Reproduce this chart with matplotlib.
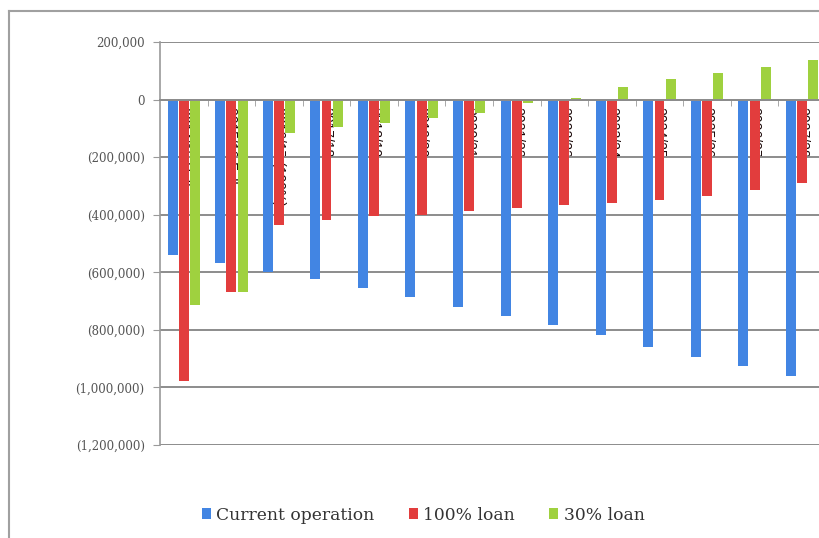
import matplotlib
matplotlib.use("Agg")
import matplotlib.pyplot as plt
import numpy as np
from matplotlib.lines import Line2D
from matplotlib.patches import Patch
from matplotlib.ticker import FuncFormatter, MultipleLocator

categories = ["2014/15 Half", "2015/16 Full", "2016/17 (100%)", "2017/18", "2018/19",
              "2019/20", "2020/21", "2021/22", "2022/23", "2023/24", "2024/25",
              "2025/26", "2026/27", "2027/28"]
current_operation = [-540000, -568000, -600000, -624000, -655000, -686000, -719000,
                     -751000, -783000, -817000, -858000, -895000, -927000, -960000]
loan_100 = [-977000, -667000, -435000, -417000, -405000, -402000, -388000,
            -377000, -365000, -360000, -348000, -336000, -313000, -290000]
loan_30 = [-713000, -670000, -117000, -97000, -83000, -65000, -45000,
           -12000, 5000, 42000, 70000, 93000, 113000, 137000]
series_names = ["Current operation", "100% loan", "30% loan"]

colors = ["#4285e3", "#e23d3d", "#9fd13f"]

W, H = 819, 538
fig = plt.figure(figsize=(W / 100, H / 100), dpi=100)

left, right, top, bottom = 160, 826, 42, 445
ax = fig.add_axes([left / W, 1 - bottom / H, (right - left) / W, (bottom - top) / H])

x = np.arange(len(categories))
bw = 0.21
off = 0.235
for vals, c, dx, name in zip([current_operation, loan_100, loan_30], colors,
                             [-off, 0, off], series_names):
    ax.bar(x + dx, vals, width=bw, color=c, zorder=2, label=name)

ax.set_xlim(-0.5, len(categories) - 0.5)
ax.set_ylim(-1200000, 200000)
ax.yaxis.set_major_locator(MultipleLocator(200000))


def fmt(v, pos):
    if v < 0:
        return "({:,.0f})".format(-v)
    return "{:,.0f}".format(v)


ax.yaxis.set_major_formatter(FuncFormatter(fmt))
ax.grid(axis="y", color="#8c8c8c", linewidth=1.4, zorder=0)
ax.set_axisbelow(True)

for s in ["top", "right"]:
    ax.spines[s].set_visible(False)
ax.spines["left"].set_color("#9a9a9a")
ax.spines["left"].set_linewidth(1.2)
ax.spines["bottom"].set_position(("data", 0))
ax.spines["bottom"].set_color("#8c8c8c")
ax.spines["bottom"].set_linewidth(1.4)

ax.tick_params(axis="y", length=5, color="#9a9a9a", labelsize=8.5, labelcolor="#555555", pad=6)
for t in ax.get_yticklabels():
    t.set_family("DejaVu Serif")

ax.set_xticks(x)
ax.set_xticklabels(categories, rotation=-90, fontsize=10, color="#1a0808",
                   family="Liberation Sans", va="top", ha="center")
ax.tick_params(axis="x", which="major", length=0, pad=5)
ax.set_xticks(np.arange(len(categories)) + 0.5, minor=True)
ax.tick_params(axis="x", which="minor", length=4, color="#9a9a9a", direction="out")

handles = [Patch(facecolor=c, edgecolor="none") for c in colors]
leg = fig.legend(handles, series_names, loc="center", bbox_to_anchor=(423 / W, 1 - 515 / H),
                 ncol=3, frameon=False, handlelength=0.55, handleheight=0.55, handletextpad=0.3,
                 columnspacing=2.0, prop={"family": "DejaVu Serif", "size": 12.3})
for t in leg.get_texts():
    t.set_color("#333333")

fig.add_artist(Line2D([9 / W, 9 / W], [0, 1 - 11 / H], color="#a0a0a0", linewidth=1.5,
                      transform=fig.transFigure))
fig.add_artist(Line2D([9 / W, 1], [1 - 11 / H, 1 - 11 / H], color="#a0a0a0", linewidth=1.5,
                      transform=fig.transFigure))

fig.savefig("out.png", dpi=100)
